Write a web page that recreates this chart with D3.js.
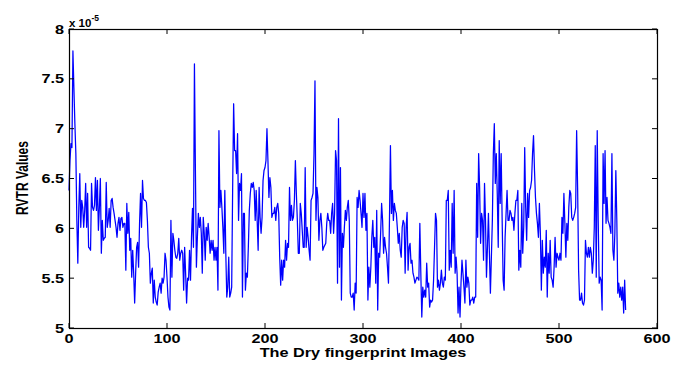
<!DOCTYPE html>
<html>
<head>
<meta charset="utf-8">
<script src="https://cdn.jsdelivr.net/npm/d3@7"></script>
<style>
  body { margin: 0; background: #fff; }
  text { font-family: "Liberation Sans", Arial, sans-serif; font-weight: bold; fill: #000; }
</style>
</head>
<body>
<div id="chart"></div>
<script>

// RVTR value of each dry fingerprint image, in units of 1e-5
const rvtr = [
  6.38,6.68,6.85,6.81,7.78,7.41,7.05,6.75,6.08,5.65, 6.21,6.55,6.01,6.28,6.21,6.01,6.18,6.45,6.01,6.35,
  5.81,5.8,5.78,6.45,6.21,6.18,6.23,6.51,6.18,6.48, 5.98,6.21,6.5,5.75,6.08,5.88,5.9,5.91,6.46,6.01,
  6.08,6.2,6.01,6.28,6.3,6.21,6.15,6.08,6.01,5.91, 6.05,6.11,5.98,6.1,6.11,6.01,6.05,6.05,5.58,6.25,
  5.95,6.16,5.78,5.9,5.51,5.78,5.55,5.25,5.55,5.81, 5.86,5.61,
  6.05,6.35,6.01,6.48,6.3,6.28,6.28,6.26,6.08,5.81, 5.75,5.45,5.55,5.6,5.25,5.48,5.31,5.26,5.23,5.36,
  5.41,5.45,5.35,5.5,5.45,5.51,5.75,5.68,5.51,5.31, 5.21,5.18,6.08,5.51,5.95,5.88,5.78,5.71,5.7,5.75,
  5.9,5.68,5.75,5.78,5.75,5.38,5.81,5.55,5.25,5.5, 5.48,5.78,5.48,5.91,6.2,5.81,7.65,6.58,5.61,5.91,
  6.15,6.01,6.11,5.95,5.55,6.11,5.95,5.68,6.01,5.88, 6.05,5.91,5.75,5.88,5.78,
  5.88,5.68,5.81,5.68,5.81,5.38,6.98,6.21,6.38,6.21, 6.01,5.75,6.38,5.75,5.31,5.41,5.71,5.31,5.35,5.41,
  6.41,7.25,6.78,6.78,6.55,6.95,6.08,6.45,6.38,6.55, 5.31,6.15,6.15,5.38,5.55,5.51,5.81,6.18,6.35,6.45,
  6.41,6.46,6.38,6.08,6.38,6.08,5.78,6.41,6.11,5.95, 6.11,6.48,6.58,6.61,6.68,7.0,6.68,6.31,6.51,6.41,
  6.11,6.15,6.15,6.21,6.08,6.21,6.25,6.15,5.71,5.43, 5.68,5.48,5.68,5.61,5.88,5.68,5.85,
  5.81,6.41,6.08,6.23,6.08,6.11,6.28,6.68,6.35,6.08, 5.75,5.75,6.25,6.15,5.98,5.81,5.81,6.61,5.81,6.01,
  5.91,5.78,5.68,6.28,6.31,6.35,6.75,7.48,6.08,6.41, 6.31,5.88,6.08,6.15,6.01,5.78,5.81,5.83,5.85,6.05,
  6.15,6.08,6.08,5.95,6.15,6.25,5.95,6.15,6.78,6.68, 5.45,7.1,5.61,6.61,5.28,5.95,5.81,6.01,6.18,6.08,
  6.21,6.28,6.08,5.35,5.31,5.31,5.35,5.18,5.45,5.35, 6.31,6.21,6.38,6.28,6.15,6.01,6.35,
  6.11,6.35,5.98,6.15,5.28,5.61,5.41,5.61,5.91,6.08, 5.81,5.91,5.45,6.18,5.18,5.75,5.71,5.95,6.25,6.08,
  5.75,5.91,5.81,5.75,5.61,5.45,6.08,6.83,6.15,6.38, 6.08,6.25,6.18,6.15,6.01,5.85,5.95,5.78,5.71,6.01,
  6.08,6.05,5.55,6.01,6.16,5.58,5.81,5.85,5.65,5.68, 5.55,5.51,5.45,5.48,5.51,5.5,5.48,6.05,5.55,5.11,
  5.41,5.31,5.38,5.31,5.65,5.41,5.45,5.21,5.28,5.26, 5.28,5.48,5.81,6.15,6.08,5.41,
  5.48,5.38,5.45,5.58,5.45,5.41,5.51,5.48,6.28,6.28, 6.38,5.58,5.78,5.61,6.25,5.75,6.38,5.55,5.71,5.55,
  5.15,5.41,5.11,5.45,5.68,5.55,5.41,5.25,5.68,5.41, 5.51,5.45,5.23,5.28,5.28,5.31,5.25,5.31,5.31,6.45,
  5.91,6.75,6.41,5.85,6.15,6.08,5.68,6.45,6.08,5.51, 5.81,6.15,5.75,5.35,5.71,6.08,6.75,7.05,6.45,6.75,
  6.35,5.81,6.88,6.25,6.75,6.08,5.48,5.38,5.91,6.15, 6.38,6.08,6.08,6.18,6.15,6.08,6.11,
  5.98,6.15,6.28,6.28,6.38,5.58,5.78,5.61,6.25,5.75, 6.01,6.81,6.21,5.88,6.35,6.11,6.38,6.41,6.48,6.75,
  6.93,6.58,6.31,6.15,6.05,5.91,6.25,5.95,5.38,5.88, 5.55,5.71,5.61,5.98,5.31,5.75,5.55,5.88,5.51,5.48,
  5.41,5.61,5.91,5.61,5.75,5.71,5.68,5.75,5.68,6.11, 5.95,6.35,6.05,5.71,6.05,5.88,6.21,6.38,6.35,6.11,
  6.08,6.11,6.15,6.21,6.98,6.41,5.58,5.28,5.28,5.35, 5.25,5.23,5.28,5.88,5.75,5.71,
  5.81,5.71,5.81,5.75,5.55,5.68,6.01,6.83,5.51,6.98, 6.08,5.45,5.51,5.48,5.18,6.75,6.25,6.78,6.05,6.31,
  6.08,6.05,6.01,5.95,6.75,5.78,5.68,5.95,6.58,6.08, 5.35,5.45,5.31,5.41,5.28,5.41,5.15,5.48,5.18
];

const xTicks = [0, 100, 200, 300, 400, 500, 600];
const yTicks = [5, 5.5, 6, 6.5, 7, 7.5, 8];

const width = 675, height = 365;
const margin = { top: 29, right: 18, bottom: 37, left: 69 };
const stretch = 1.3; // text in the picture is wider than it is tall

const svg = d3.select('#chart')
  .append('svg')
  .attr('width', width)
  .attr('height', height);

const x = d3.scaleLinear()
  .domain([0, 600])
  .range([margin.left, width - margin.right]);

const y = d3.scaleLinear()
  .domain([5, 8])
  .range([height - margin.bottom, margin.top]);

// stretched bold label
function label(px, py, str, anchor, size = 12.5) {
  return svg.append('g')
    .attr('transform', `translate(${px},${py}) scale(${stretch},1)`)
    .append('text')
    .attr('text-anchor', anchor)
    .attr('font-size', size)
    .text(str);
}

// the series
const line = d3.line()
  .x((d, i) => x(i))
  .y(d => y(d));

svg.append('path')
  .datum(rvtr)
  .attr('fill', 'none')
  .attr('stroke', '#0000ff')
  .attr('stroke-width', 1.25)
  .attr('stroke-linejoin', 'round')
  .attr('d', line);

// inward ticks on all four sides
const tk = 5;
const x0 = x(0), x1 = x(600), y0 = y(5), y1 = y(8);

svg.append('g')
  .selectAll('line')
  .data(xTicks)
  .join('line')
  .attr('x1', d => x(d)).attr('x2', d => x(d))
  .attr('y1', y0).attr('y2', y0 - tk)
  .attr('stroke', '#000');

svg.append('g')
  .selectAll('line')
  .data(xTicks)
  .join('line')
  .attr('x1', d => x(d)).attr('x2', d => x(d))
  .attr('y1', y1).attr('y2', y1 + tk)
  .attr('stroke', '#000');

svg.append('g')
  .selectAll('line')
  .data(yTicks)
  .join('line')
  .attr('x1', x0).attr('x2', x0 + tk)
  .attr('y1', d => y(d)).attr('y2', d => y(d))
  .attr('stroke', '#000');

svg.append('g')
  .selectAll('line')
  .data(yTicks)
  .join('line')
  .attr('x1', x1).attr('x2', x1 - tk)
  .attr('y1', d => y(d)).attr('y2', d => y(d))
  .attr('stroke', '#000');

// box
svg.append('rect')
  .attr('x', x0 + 0.5)
  .attr('y', y1 + 0.5)
  .attr('width', x1 - x0)
  .attr('height', y0 - y1)
  .attr('fill', 'none')
  .attr('stroke', '#000')
  .attr('stroke-width', 1.2);

// tick labels
xTicks.forEach(d => label(x(d), y0 + 15, d, 'middle'));
yTicks.forEach(d => label(x0 - 5, y(d) + 4.5, d, 'end'));

// axis titles
label((x0 + x1) / 2, 357, 'The Dry fingerprint Images', 'middle');

svg.append('g')
  .attr('transform', `translate(28,178) scale(${stretch},1) rotate(-90)`)
  .append('text')
  .attr('text-anchor', 'middle')
  .attr('font-size', 12)
  .text('RVTR Values');

// exponent above the y axis
const expo = svg.append('text')
  .attr('x', x0)
  .attr('y', 27)
  .attr('font-size', 11.5)
  .text('x 10');
expo.append('tspan')
  .attr('dy', -6)
  .attr('font-size', 8.5)
  .text('-5');

</script>
</body>
</html>
